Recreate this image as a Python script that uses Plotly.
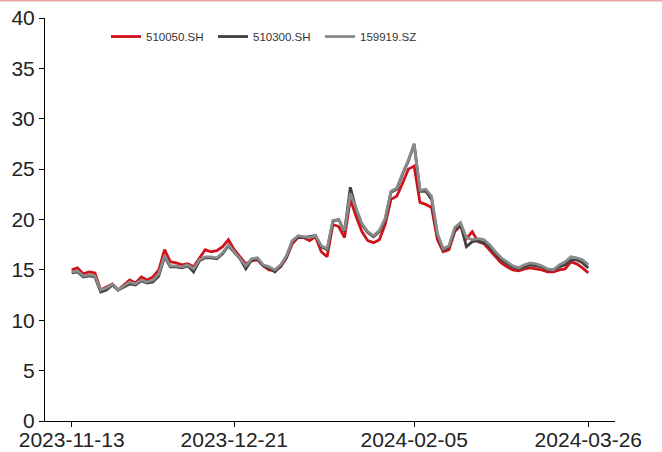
import pandas as pd
import plotly.graph_objects as go

# Trading days 2023-11-13 .. 2024-03-26 (China A-share calendar)
holidays = ["2024-01-01", "2024-02-09", "2024-02-12", "2024-02-13",
            "2024-02-14", "2024-02-15", "2024-02-16"]
dates = [d.strftime("%Y-%m-%d") for d in pd.bdate_range("2023-11-13", "2024-03-26")
         if d.strftime("%Y-%m-%d") not in holidays]

tick_labels = ["2023-11-13", "2023-12-21", "2024-02-05", "2024-03-26"]

s510050 = [15.0, 15.2, 14.6, 14.8, 14.7, 13.0, 13.3, 13.6, 13.0, 13.5,
           14.0, 13.7, 14.3, 14.0, 14.3, 15.0, 17.0, 15.8, 15.7, 15.5,
           15.6, 15.3, 16.2, 17.0, 16.8, 16.9, 17.3, 18.0, 17.0, 16.3,
           15.6, 15.9, 16.0, 15.4, 15.0, 14.9, 15.3, 16.2, 17.6, 18.2,
           18.2, 17.9, 18.3, 16.8, 16.3, 19.5, 19.3, 18.2, 22.0, 20.3,
           18.8, 17.9, 17.7, 18.0, 19.5, 22.0, 22.3, 23.6, 25.0, 25.3,
           21.7, 21.5, 21.2, 18.0, 16.8, 17.0, 18.8, 19.4, 18.1, 18.8,
           17.8, 17.6, 17.0, 16.3, 15.7, 15.3, 15.0, 14.9, 15.1, 15.2,
           15.1, 15.0, 14.8, 14.8, 15.0, 15.1, 15.8, 15.6, 15.2, 14.7]

s510300 = [14.7, 14.8, 14.3, 14.4, 14.3, 12.8, 13.0, 13.5, 13.0, 13.3,
           13.6, 13.5, 13.9, 13.7, 13.8, 14.4, 16.3, 15.3, 15.3, 15.2,
           15.4, 14.8, 15.9, 16.2, 16.2, 16.1, 16.6, 17.4, 16.7, 16.1,
           15.1, 16.0, 16.1, 15.4, 15.2, 14.8, 15.4, 16.3, 17.8, 18.3,
           18.2, 18.3, 18.4, 17.3, 17.0, 19.8, 20.0, 18.8, 23.2, 21.0,
           19.5, 18.7, 18.3, 18.8, 20.0, 22.7, 23.0, 24.5, 25.8, 27.5,
           22.8, 22.8, 22.0, 18.5, 17.0, 17.3, 19.0, 19.5, 17.3, 17.8,
           17.9, 17.7, 17.3, 16.6, 16.0, 15.6, 15.3, 15.1, 15.3, 15.5,
           15.4, 15.3, 15.0, 15.0, 15.3, 15.5, 16.0, 16.0, 15.7, 15.2]

s159919 = [14.8, 14.9, 14.4, 14.5, 14.4, 13.0, 13.2, 13.6, 13.0, 13.4,
           13.8, 13.6, 14.0, 13.8, 14.0, 14.6, 16.4, 15.4, 15.4, 15.3,
           15.5, 15.1, 16.0, 16.3, 16.3, 16.2, 16.7, 17.5, 16.8, 16.2,
           15.4, 16.1, 16.2, 15.5, 15.3, 15.0, 15.5, 16.4, 17.9, 18.4,
           18.3, 18.2, 18.4, 17.4, 17.1, 19.9, 20.0, 18.9, 22.6, 21.1,
           19.6, 18.8, 18.4, 18.9, 20.1, 22.8, 23.1, 24.6, 25.9, 27.5,
           22.9, 23.0, 22.3, 18.6, 17.1, 17.4, 19.2, 19.7, 18.2, 18.0,
           18.1, 18.0, 17.5, 16.8, 16.2, 15.8, 15.4, 15.2, 15.5, 15.7,
           15.6, 15.4, 15.1, 15.0, 15.5, 15.8, 16.3, 16.2, 16.0, 15.5]

names = ["510050.SH", "510300.SH", "159919.SZ"]
colors = ["#d0121b", "#404040", "#8a8a8a"]

fig = go.Figure()
for name, ys, c in zip(names, [s510050, s510300, s159919], colors):
    fig.add_trace(go.Scatter(x=dates, y=ys, mode="lines", name=name,
                             line=dict(color=c, width=2.8)))

font_family = "Liberation Sans, Arial, sans-serif"

fig.update_layout(
    width=662, height=452,
    margin=dict(l=45, r=47, t=18, b=31, autoexpand=False),
    paper_bgcolor="white", plot_bgcolor="white",
    font=dict(family=font_family, color="#222222"),
    showlegend=True,
    legend=dict(orientation="h", x=0.107, xanchor="left", y=0.99, yanchor="top",
                font=dict(size=11.5, family=font_family, color="#333333"),
                bgcolor="rgba(0,0,0,0)", itemwidth=30, tracegroupgap=0,
                entrywidth=62, entrywidthmode="pixels"),
    xaxis=dict(type="category", range=[-4.6, 93.6], automargin=False,
               tickmode="array", tickvals=tick_labels, ticktext=tick_labels,
               showline=True, linecolor="black", linewidth=1,
               ticks="outside", ticklen=5, tickcolor="black",
               ticklabelstandoff=-5,
               showgrid=False, zeroline=False,
               tickfont=dict(size=21, family=font_family, color="#222222")),
    yaxis=dict(range=[0, 40], tickvals=[0, 5, 10, 15, 20, 25, 30, 35, 40],
               automargin=False,
               showline=True, linecolor="black", linewidth=1,
               ticks="outside", ticklen=5, tickcolor="black",
               showgrid=False, zeroline=False,
               tickfont=dict(size=21, family=font_family, color="#222222")),
    shapes=[dict(type="line", xref="paper", yref="paper",
                 x0=-45/570, x1=1+47/570, y0=1+17.5/403, y1=1+17.5/403,
                 line=dict(color="#e6a3a3", width=2))],
)

fig.write_html("out.html", config={"displayModeBar": False},
               post_script="document.body.style.margin='0';document.body.style.overflow='hidden';")
